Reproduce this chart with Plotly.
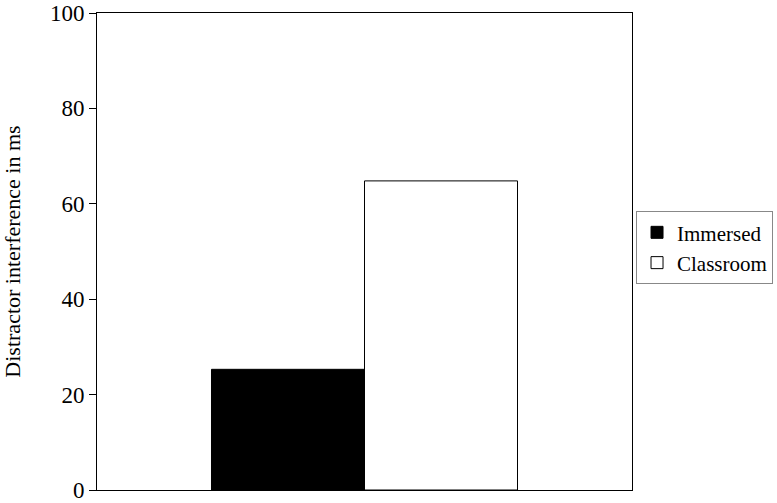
import plotly.graph_objects as go

# Distractor interference by group (ms)
groups = ['Immersed', 'Classroom']
interference = [25.3, 64.8]
bar_colors = ['black', 'white']

fig = go.Figure()

for name, val, col in zip(groups, interference, bar_colors):
    fig.add_trace(go.Bar(
        x=[''],
        y=[val],
        name=name,
        marker=dict(color=col, line=dict(color='black', width=1)),
    ))

fig.update_layout(
    width=777,
    height=503,
    barmode='group',
    bargap=0.428,
    bargroupgap=0,
    plot_bgcolor='white',
    paper_bgcolor='white',
    margin=dict(l=97, r=145, t=13, b=13, autoexpand=False),
    font=dict(family='Liberation Serif', color='black', size=21),
    legend=dict(
        x=1.2636, y=0.508, xanchor='right', yanchor='middle',
        bordercolor='#888888', borderwidth=1,
        font=dict(family='Liberation Serif', size=21),
        itemwidth=30,
        tracegroupgap=0,
    ),
    xaxis=dict(
        showticklabels=False,
        showline=True, linecolor='black', linewidth=1, mirror=True,
        ticks='', showgrid=False, automargin=False,
    ),
    yaxis=dict(
        range=[0, 100],
        dtick=20,
        ticks='outside', ticklen=7, tickcolor='black',
        ticklabeloverflow='allow',
        showline=True, linecolor='black', linewidth=1, mirror=True,
        showgrid=False, zeroline=False, automargin=False,
        tickfont=dict(family='Liberation Serif', size=23),
        title=dict(text='Distractor interference in ms',
                   font=dict(family='Liberation Serif', size=22), standoff=33),
    ),
)

# drop the default page margin so the figure fills the window
fig.write_html("out.html", config={'displayModeBar': False},
               post_script="document.body.style.margin='0';")
